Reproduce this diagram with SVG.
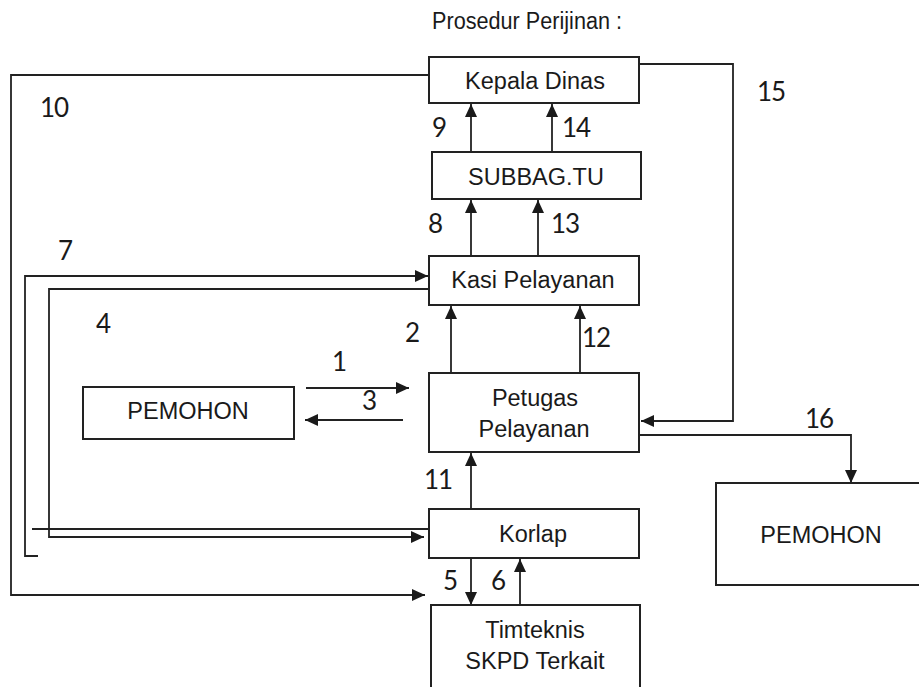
<svg xmlns="http://www.w3.org/2000/svg" width="919" height="687" viewBox="0 0 919 687">
<defs>
<style>
.box{fill:#fff;stroke:#222;stroke-width:2}
.t{font-family:"Liberation Sans",Arial,sans-serif;font-size:23.5px;fill:#1a1a1a;text-anchor:middle}
.n{font-family:Lato,"Open Sans",sans-serif;font-size:26px;letter-spacing:-1px;fill:#1a1a1a}
.c{fill:none;stroke:#222;stroke-width:1.8}
</style>
<marker id="ah" markerUnits="userSpaceOnUse" markerWidth="14" markerHeight="12" refX="13" refY="6" orient="auto">
<path d="M0,0 L13,6 L0,12 Z" fill="#1a1a1a"/>
</marker>
</defs>
<rect width="919" height="687" fill="#fff"/>
<text x="432" y="29" font-family="'Liberation Sans',Arial,sans-serif" font-size="23" fill="#1a1a1a" textLength="190" lengthAdjust="spacingAndGlyphs">Prosedur Perijinan :</text>

<g id="connectors">
<path class="c" d="M471,152 V104" marker-end="url(#ah)"/>
<path class="c" d="M552,152 V104" marker-end="url(#ah)"/>
<path class="c" d="M471,256 V200" marker-end="url(#ah)"/>
<path class="c" d="M538,256 V200" marker-end="url(#ah)"/>
<path class="c" d="M451,373 V306" marker-end="url(#ah)"/>
<path class="c" d="M580,373 V306" marker-end="url(#ah)"/>
<path class="c" d="M471,509 V453" marker-end="url(#ah)"/>
<path class="c" d="M471,558 V605" marker-end="url(#ah)"/>
<path class="c" d="M520,605 V559" marker-end="url(#ah)"/>
<path class="c" d="M306,388 H409" marker-end="url(#ah)"/>
<path class="c" d="M403,420 H305" marker-end="url(#ah)"/>
<path class="c" d="M639,64 H733 V421 H641" marker-end="url(#ah)"/>
<path class="c" d="M639,435 H851 V483" marker-end="url(#ah)"/>
<path class="c" d="M429,75 H11 V595 H425" marker-end="url(#ah)"/>
<path class="c" d="M38,556 H25 V276 H428" marker-end="url(#ah)"/>
<path class="c" d="M429,289 H49 V537 H424" marker-end="url(#ah)"/>
<path class="c" d="M32,529 H429"/>
</g>

<g id="kepala-dinas"><rect class="box" x="429" y="57" width="210" height="46"/><text class="t" x="535" y="89">Kepala Dinas</text></g>
<g id="subbag-tu"><rect class="box" x="432" y="152" width="209" height="47"/><text class="t" x="536" y="185">SUBBAG.TU</text></g>
<g id="kasi-pelayanan"><rect class="box" x="429" y="256" width="210" height="49"/><text class="t" x="533" y="288">Kasi Pelayanan</text></g>
<g id="petugas-pelayanan"><rect class="box" x="429" y="373" width="210" height="79"/><text class="t" x="535" y="406">Petugas</text><text class="t" x="534" y="437">Pelayanan</text></g>
<g id="korlap"><rect class="box" x="429" y="509" width="210" height="49"/><text class="t" x="533" y="542">Korlap</text></g>
<g id="timteknis"><rect class="box" x="431" y="605" width="209" height="90"/><text class="t" x="535" y="638">Timteknis</text><text class="t" x="535" y="669">SKPD Terkait</text></g>
<g id="pemohon-left"><rect class="box" x="83" y="387" width="211" height="52"/><text class="t" x="188" y="419">PEMOHON</text></g>
<g id="pemohon-right"><rect class="box" x="716" y="483" width="210" height="102"/><text class="t" x="821" y="543">PEMOHON</text></g>

<g id="labels">
<text class="n" x="40" y="117">10</text>
<text class="n" x="432" y="137">9</text>
<text class="n" x="562" y="137">14</text>
<text class="n" x="757" y="101">15</text>
<text class="n" x="428" y="233">8</text>
<text class="n" x="551" y="233">13</text>
<text class="n" x="58" y="260">7</text>
<text class="n" x="96" y="333">4</text>
<text class="n" x="405" y="342">2</text>
<text class="n" x="582" y="347">12</text>
<text class="n" x="332" y="371">1</text>
<text class="n" x="362" y="410">3</text>
<text class="n" x="805" y="428">16</text>
<text class="n" x="424" y="489">11</text>
<text class="n" x="443" y="590">5</text>
<text class="n" x="491" y="590">6</text>
</g>
</svg>
